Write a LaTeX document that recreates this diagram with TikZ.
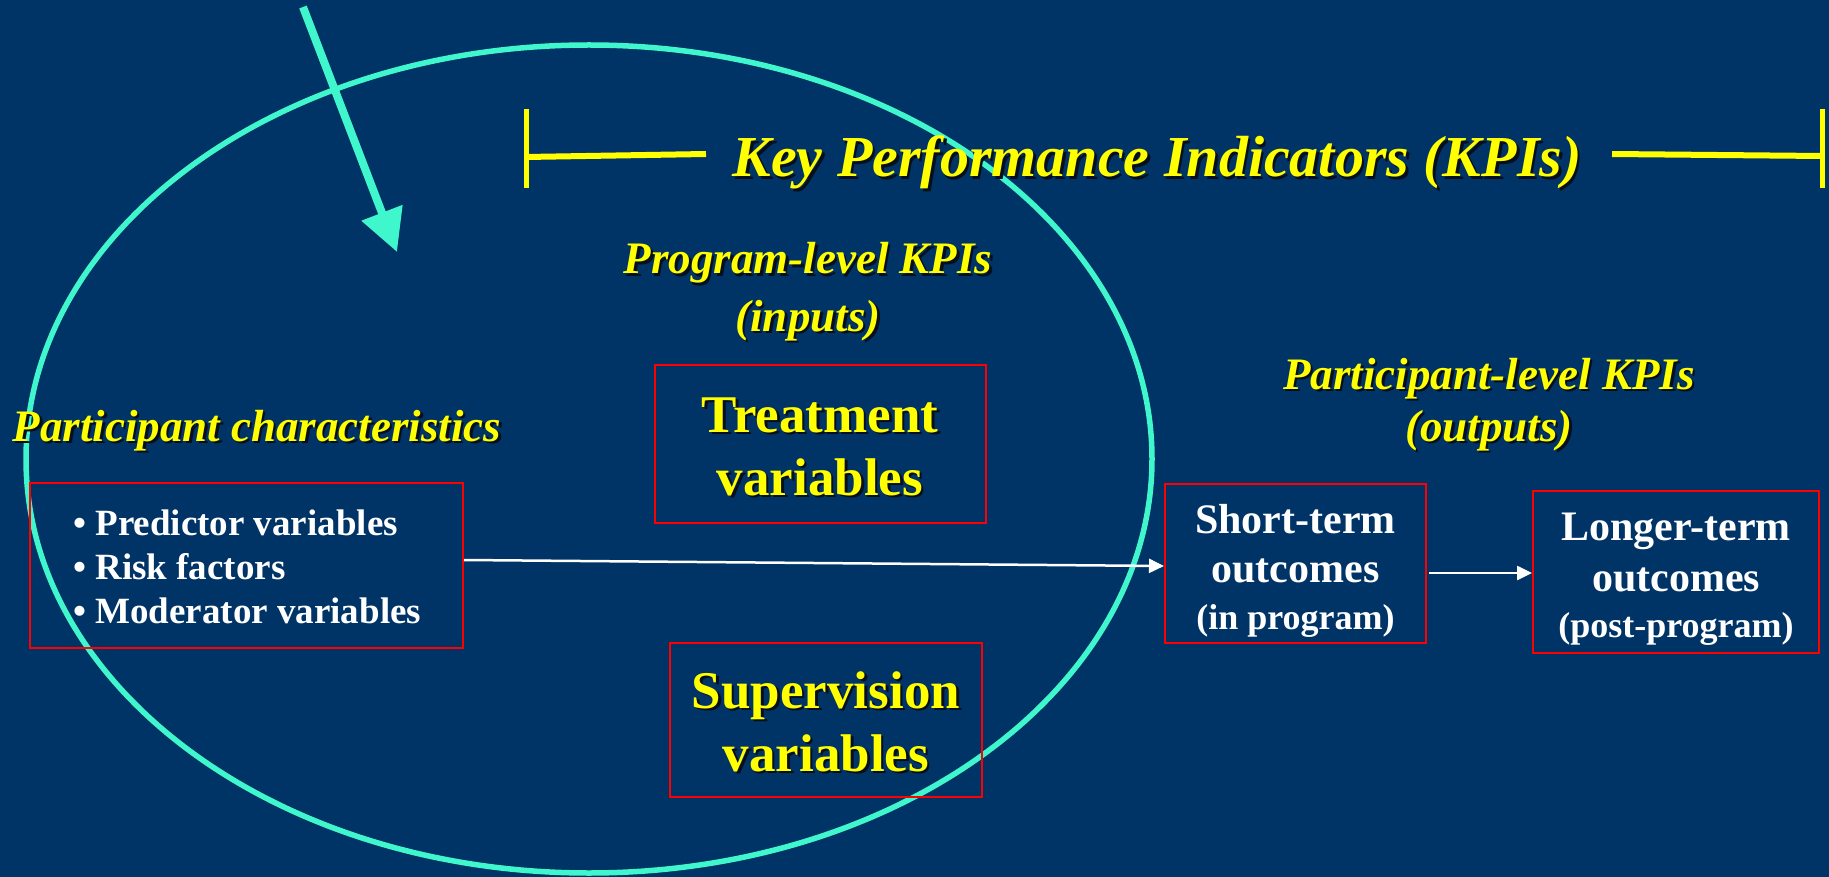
\documentclass[tikz,border=0pt]{standalone}
\usepackage{fontspec}
\setmainfont{Liberation Serif}
\usetikzlibrary{arrows.meta}
\definecolor{bg}{RGB}{0,51,102}
\definecolor{aqua}{RGB}{64,246,204}
\definecolor{kpiyellow}{RGB}{255,255,0}
\definecolor{boxred}{RGB}{255,0,0}
\definecolor{shadowc}{RGB}{8,14,28}
\newcommand\shd[1]{\leavevmode\rlap{\kern2.5pt\raisebox{-2.5pt}{\color{shadowc}#1}}#1}
\begin{document}
\begin{tikzpicture}[x=1pt,y=-1pt,
  head/.style={text=kpiyellow, font=\bfseries\itshape\fontsize{45}{50}\selectfont, inner sep=0pt, anchor=base},
  redbox/.style={draw=boxred, line width=2pt, inner sep=0pt},
  ytxt/.style={text=kpiyellow, font=\bfseries\fontsize{53}{64}\selectfont, inner sep=0pt, anchor=base},
  wtxt/.style={text=white, font=\bfseries\fontsize{42}{49}\selectfont, inner sep=0pt, anchor=base},
  wsmall/.style={wtxt, font=\bfseries\fontsize{36}{44}\selectfont},
  ltxt/.style={text=white, font=\bfseries\fontsize{37}{44}\selectfont, inner sep=0pt, anchor=base west},
  flow/.style={draw=white, line width=2.5pt, -{Triangle[length=15pt,width=14pt]}},
  kpibar/.style={draw=kpiyellow, line width=6pt},
]
\fill[bg] (0,0) rectangle (1829,877);
\useasboundingbox (0,0) rectangle (1829,877);

% big ellipse
\draw[aqua, line width=5.5pt] (589,459) ellipse [x radius=563pt, y radius=414pt];

% pointing arrow
\coordinate (arrowstart) at (303,7);
\coordinate (arrowtip) at (397,252);
\draw[aqua, line width=8pt, -{Triangle[length=42pt,width=42pt]}] (arrowstart) -- (arrowtip);

% KPI bracket
\coordinate (lbtop) at (526,109);
\coordinate (lbbot) at (526,188);
\coordinate (lbmid) at (526,157);
\coordinate (llend) at (706,154);
\coordinate (rlstart) at (1612,154);
\coordinate (rbmid) at (1822,156);
\coordinate (rbtop) at (1822,109);
\coordinate (rbbot) at (1822,188);
\draw[kpibar, line width=5pt] (lbtop) -- (lbbot);
\draw[kpibar] (lbmid) -- (llend);
\draw[kpibar] (rlstart) -- (rbmid);
\draw[kpibar, line width=5pt] (rbtop) -- (rbbot);

\node[head, font=\bfseries\itshape\fontsize{58}{64}\selectfont] (title) at (1157,177) {\shd{Key Performance Indicators (KPIs)}};

% headings
\node[head] (proglvl) at (808,274) {\shd{Program-level KPIs}};
\node[head] (inputs) at (808,331) {\shd{(inputs)}};
\node[head] (partchar) at (257,441) {\shd{Participant characteristics}};
\node[head] (partlvl) at (1489,389) {\shd{Participant-level KPIs}};
\node[head] (outputs) at (1489,441) {\shd{(outputs)}};

% boxes
\node[redbox, minimum width=433pt, minimum height=165pt] (pc) at (246.5,565.5) {};
\node[ltxt] (pc1) at (73,535) {\textbullet\ Predictor variables};
\node[ltxt] (pc2) at (73,579) {\textbullet\ Risk factors};
\node[ltxt] (pc3) at (73,623) {\textbullet\ Moderator variables};

\node[redbox, minimum width=331pt, minimum height=158pt] (treat) at (820,444) {};
\node[ytxt] (treat1) at (820,432) {\shd{Treatment}};
\node[ytxt] (treat2) at (820,495) {\shd{variables}};

\node[redbox, minimum width=312pt, minimum height=154pt] (superv) at (826,720) {};
\node[ytxt] (superv1) at (826,708) {\shd{Supervision}};
\node[ytxt] (superv2) at (826,771) {\shd{variables}};

\node[redbox, minimum width=261pt, minimum height=159pt] (short) at (1295.5,563.5) {};
\node[wtxt] (short1) at (1295.5,533) {Short-term};
\node[wtxt] (short2) at (1295.5,582) {outcomes};
\node[wsmall] (short3) at (1295.5,629) {(in program)};

\node[redbox, minimum width=286pt, minimum height=162pt] (longer) at (1676,572) {};
\node[wtxt] (longer1) at (1676,540) {Longer-term};
\node[wtxt] (longer2) at (1676,591) {outcomes};
\node[wsmall] (longer3) at (1676,637) {(post-program)};

% connectors
\draw[flow] ([yshift=5.5pt]pc.east) -- ([yshift=-2.5pt]short.west);
\draw[flow, shorten <=2pt] ([yshift=-9.5pt]short.east) -- ([yshift=-1pt]longer.west);
\end{tikzpicture}
\end{document}
